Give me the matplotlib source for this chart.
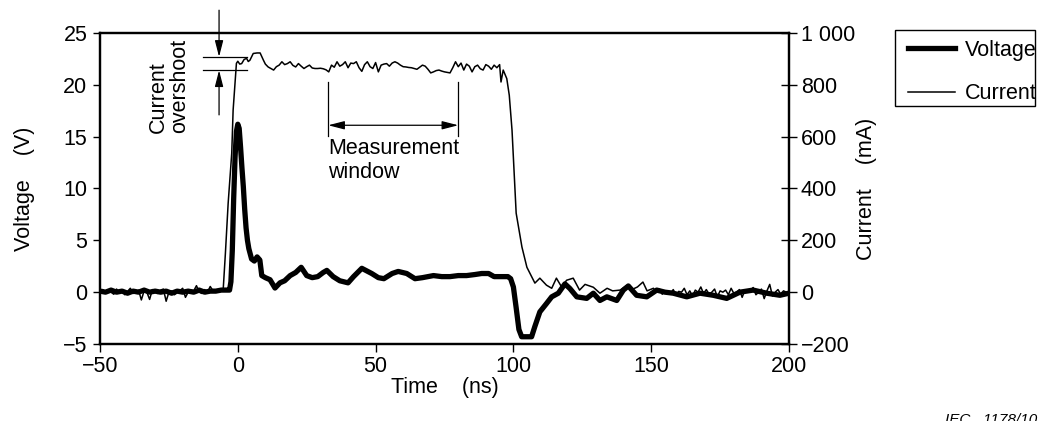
import matplotlib
matplotlib.use("Agg")
import matplotlib.pyplot as plt
from matplotlib.patches import Rectangle
from matplotlib.ticker import FuncFormatter

plt.rcParams['font.family'] = ['Liberation Sans', 'DejaVu Sans']

# ---------------- data ----------------
volt_t = [-50, -48, -46, -44, -42, -40, -38, -36, -34, -32, -30, -28, -26, -24, -22,
          -20, -18, -16, -14, -12, -10, -8, -6, -4, -3, -2.5, -2, -1.5, -1, -0.5, 0,
          0.5, 1, 1.5, 2, 2.5, 3, 3.5, 4, 5, 6, 7, 8, 8.7, 10, 11.7, 13.5, 15.3, 17,
          19, 21, 23, 25, 27, 29, 31, 32.3, 34.6, 37, 40, 42, 45, 48.6, 51, 53, 56,
          58.2, 61.3, 64.3, 67, 71, 74, 77, 80, 83, 86, 88.5, 91, 93, 95, 98, 99, 100,
          101, 102, 103, 106.6, 107.8, 109.6, 112, 113.9, 116.3, 118.7, 120.5, 123,
          126.6, 129, 131.4, 133.9, 137.5, 139.9, 141.7, 144.7, 148.4, 152, 155, 158,
          162.9, 167.7, 172.5, 177.4, 182.2, 187, 191.9, 196.7, 200]
volt_v = [0.1, 0.0, 0.2, 0.0, 0.1, -0.1, 0.1, 0.0, 0.2, 0.0, 0.1, 0.0, 0.1, -0.1, 0.1,
          0.0, 0.1, 0.0, 0.2, 0.0, 0.1, 0.1, 0.2, 0.2, 0.2, 1.0, 4.0, 9.0, 13.0, 15.5, 16.2,
          15.8, 14.0, 12.0, 10.2, 8.0, 6.2, 5.0, 4.2, 3.2, 3.0, 3.4, 3.1, 1.6, 1.4, 1.2, 0.4, 0.9, 1.1,
          1.6, 1.9, 2.4, 1.6, 1.4, 1.5, 1.9, 2.1, 1.5, 1.1, 0.9, 1.5, 2.3, 1.8, 1.4, 1.3, 1.8,
          2.0, 1.8, 1.3, 1.4, 1.6, 1.5, 1.5, 1.6, 1.6, 1.7, 1.8, 1.8, 1.5, 1.5, 1.5, 1.3, 0.5,
          -1.5, -3.6, -4.3, -4.3, -3.3, -1.9, -1.1, -0.45, -0.1, 0.8, 0.35, -0.45,
          -0.6, -0.1, -0.8, -0.45, -0.8, 0.2, 0.6, -0.3, -0.45, 0.2, 0.0, -0.1,
          -0.45, -0.1, -0.3, -0.6, 0.0, 0.2, -0.1, -0.3, -0.1]

# current: pre-pulse baseline (1 ns steps from -50 to -6)
curr_pre_t = [-50, -49, -48, -47, -46, -45, -44, -43, -42, -41, -40, -39, -38, -37, -36,
              -35, -34, -33, -32, -31, -30, -29, -28, -27, -26, -25, -24, -23, -22, -21,
              -20, -19, -18, -17, -16, -15, -14, -13, -12, -11, -10, -9, -8, -7, -6]
curr_pre_i = [0, 10, -5, 8, 0, -8, 12, 0, 5, -10, 3, 15, -5, 0, 8,
              -30, 5, 0, -28, 10, 0, -5, 8, 12, -35, 0, 5, -10, 0, 6,
              15, -20, 0, 8, 5, 25, 0, -5, 10, 0, 22, 5, 0, 8, 5]
# rise and overshoot
curr_rise_t = [-5.3, -4.5, -3.5, -2.2, -1.7, -0.5, 0, 0.7, 1.4, 2.3, 3.2, 3.8, 4.4, 5.6, 7, 8.1, 9.3]
curr_rise_i = [10, 150, 343, 536, 702, 883, 891, 880, 882, 898, 902, 890, 895, 921, 923, 923, 895]
# plateau (1 ns steps from 10 to 95)
curr_flat_t = [10, 11, 12, 13, 14, 15, 16, 17, 18, 19, 20, 21, 22, 23, 24, 25, 26, 27, 28, 29,
               30, 31, 32, 33, 34, 35, 36, 37, 38, 39, 40, 41, 42, 43, 44, 45, 46, 47, 48, 49,
               50, 51, 52, 53, 54, 55, 56, 57, 58, 59, 60, 61, 62, 63, 64, 65, 66, 67, 68, 69,
               70, 71, 72, 73, 74, 75, 76, 77, 78, 79, 80, 81, 82, 83, 84, 85, 86, 87, 88, 89,
               90, 91, 92, 93, 94, 95]
curr_flat_i = [880, 869, 863, 857, 870, 876, 889, 878, 882, 889, 875, 869, 882, 872, 863, 870, 876, 865, 863, 863,
               864, 862, 858, 850, 876, 868, 889, 872, 878, 889, 866, 884, 882, 889, 866, 852, 878, 889, 870, 863,
               886, 850, 876, 880, 882, 872, 884, 889, 884, 876, 870, 869, 867, 866, 863, 860, 868, 876, 872, 860,
               846, 850, 855, 857, 853, 850, 848, 846, 866, 889, 870, 884, 857, 880, 872, 850, 870, 876, 862, 857,
               878, 872, 860, 876, 866, 878]
# fall
curr_fall_t = [95.5, 96.3, 97.6, 98.5, 99.5, 101, 103.1, 104.9, 106, 107.8, 109.6, 112, 113.9,
               115.6, 117.5, 119.3, 121.7, 124, 126, 129, 131.4, 134, 136, 138.7, 141, 143,
               145, 147, 148.5, 150.8]
curr_fall_i = [811, 857, 824, 760, 625, 305, 174, 96, 73, 35, 54, 27, 15,
               54, 20, 46, 54, 8, 30, 19, -4, 15, 5, 8, 25, 10,
               20, 39, 5, 15]
# tail (1 ns steps from 152 to 200)
curr_tail_t = [152, 153, 154, 155, 156, 157, 158, 159, 160, 161, 162, 163, 164, 165, 166, 167,
               168, 169, 170, 171, 172, 173, 174, 175, 176, 177, 178, 179, 180, 181, 182, 183,
               184, 185, 186, 187, 188, 189, 190, 191, 192, 193, 194, 195, 196, 197, 198, 199, 200]
curr_tail_i = [0, 12, -8, 5, 0, -5, 10, -12, 3, 0, 15, -10, 5, -15, 8, 0, 20, -5, 10, -8,
               0, 12, -18, 5, 0, 8, -10, 15, -5, 0, 10, -20, 8, 0, 5, 18, -10, 0, 12, -25,
               5, 30, -15, 0, 10, -8, 5, 0, 3]

curr_t = curr_pre_t + curr_rise_t + curr_flat_t + curr_fall_t + curr_tail_t
curr_i = curr_pre_i + curr_rise_i + curr_flat_i + curr_fall_i + curr_tail_i

x_ticks = [-50, 0, 50, 100, 150, 200]
v_ticks = [-5, 0, 5, 10, 15, 20, 25]
i_ticks = [-200, 0, 200, 400, 600, 800, 1000]

# ---------------- figure ----------------
W, H = 1041, 421
fig = plt.figure(figsize=(W / 100, H / 100), dpi=100)
ax = fig.add_axes([100 / W, 1 - 344 / H, 689 / W, 311 / H])
ax2 = ax.twinx()

FS = 15.5
lw_spine = 1.6
for a in (ax, ax2):
    for s in a.spines.values():
        s.set_linewidth(lw_spine)

ax.set_xlim(-50, 200)
ax.set_ylim(-5, 25)
ax2.set_ylim(-200, 1000)

lv, = ax.plot(volt_t, volt_v, color='black', lw=3.8, solid_joinstyle='round', label='Voltage', zorder=3)
li, = ax2.plot(curr_t, curr_i, color='black', lw=1.1, label='Current', zorder=2)

ax.set_xticks(x_ticks)
ax.set_yticks(v_ticks)
ax2.set_yticks(i_ticks)
ax2.yaxis.set_major_formatter(FuncFormatter(lambda v, p: f"{int(v):,}".replace(",", " ").replace("-", "\u2212")))

ax.tick_params(axis='x', direction='out', length=6, width=1, labelsize=FS, pad=3)
ax.tick_params(axis='y', direction='out', length=5, width=1, labelsize=FS, pad=4)
ax2.tick_params(axis='y', direction='inout', length=11, width=1, labelsize=FS, pad=3)

ax.set_xlabel('Time    (ns)', fontsize=FS, labelpad=0)
ax.set_ylabel('Voltage    (V)', fontsize=FS, labelpad=20)
ax2.set_ylabel('Current    (mA)', fontsize=FS, labelpad=1)

# current overshoot annotation
xo = -6.8
ax.plot([-12.6, 3.3], [22.7, 22.7], color='black', lw=0.9, zorder=4)
ax.plot([-12.6, 3.3], [21.4, 21.4], color='black', lw=0.9, zorder=4)
arrow_kw = dict(arrowstyle='-|>,head_length=0.7,head_width=0.18', color='black', lw=0.9,
                mutation_scale=14, shrinkA=0, shrinkB=0)
ax.annotate('', xy=(xo, 22.7), xytext=(xo, 27.2), arrowprops=arrow_kw, annotation_clip=False)
ax.annotate('', xy=(xo, 21.4), xytext=(xo, 17.1), arrowprops=arrow_kw, annotation_clip=False)
ax.text(-25.0, 15.4, 'Current\novershoot', rotation=90, fontsize=FS, ha='center', va='bottom',
        multialignment='left', linespacing=1.05)

# measurement window annotation
ax.plot([32.8, 32.8], [15.1, 20.3], color='black', lw=0.9)
ax.plot([80.0, 80.0], [15.1, 20.3], color='black', lw=0.9)
ax.annotate('', xy=(32.8, 16.1), xytext=(80.0, 16.1),
            arrowprops=dict(arrowstyle='<|-|>,head_length=0.7,head_width=0.18', color='black',
                            lw=0.9, mutation_scale=14, shrinkA=0, shrinkB=0))
ax.text(32.8, 14.9, 'Measurement\nwindow', fontsize=FS, ha='left', va='top', linespacing=1.2)

# legend (frame drawn separately so the text sits close to its right edge)
leg = fig.legend(handles=[lv, li], labels=['Voltage', 'Current'], loc='upper left',
                 bbox_to_anchor=(898 / W, 1 - 30 / H), fontsize=FS, frameon=False,
                 handlelength=2.2, borderpad=0.45, labelspacing=1.05, handletextpad=0.45,
                 borderaxespad=0)
fig.add_artist(Rectangle((895 / W, 1 - 106 / H), 140 / W, 76 / H, transform=fig.transFigure,
                         fill=False, edgecolor='black', lw=1.0))

fig.text(945 / W, -6 / H, 'IEC   1178/10', fontsize=11, style='italic', ha='left', va='bottom')

fig.savefig('out.png', dpi=100)
